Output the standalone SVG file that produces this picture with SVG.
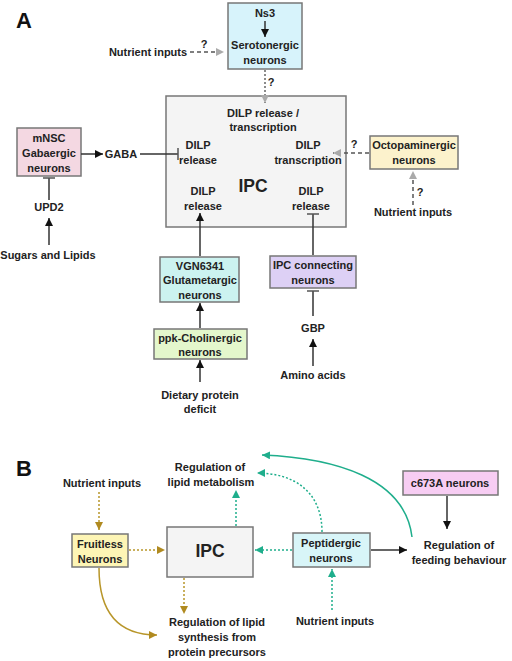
<svg xmlns="http://www.w3.org/2000/svg" width="512" height="661" viewBox="0 0 512 661">
<style>
text{font-family:"Liberation Sans",Arial,sans-serif;font-weight:bold;font-size:11px;fill:#222;text-anchor:middle}
.lbl{font-size:22px;text-anchor:start;fill:#111}
.big{font-size:17.5px}
.box{stroke:#777;stroke-width:1.5}
.blk{stroke:#333;stroke-width:1.5;fill:none}
.dash{stroke:#555;stroke-width:1.5;fill:none;stroke-dasharray:4 3}
.dot{stroke:#666;stroke-width:1.5;fill:none;stroke-dasharray:2 2}
.gold{stroke:#b8962a;stroke-width:1.5;fill:none;stroke-dasharray:2 2}
.golds{stroke:#b8962a;stroke-width:1.5;fill:none}
.grn{stroke:#1fae8c;stroke-width:1.5;fill:none;stroke-dasharray:2 2}
.grns{stroke:#1fae8c;stroke-width:1.5;fill:none}
</style>
<defs>
<marker id="ab" markerUnits="userSpaceOnUse" markerWidth="10" markerHeight="10" refX="8" refY="4" orient="auto"><path d="M0,0 L8,4 L0,8 z" fill="#111"/></marker>
<marker id="ag" markerUnits="userSpaceOnUse" markerWidth="10" markerHeight="10" refX="8" refY="4" orient="auto"><path d="M0,0 L8,4 L0,8 z" fill="#aaa"/></marker>
<marker id="ao" markerUnits="userSpaceOnUse" markerWidth="10" markerHeight="10" refX="8" refY="4" orient="auto"><path d="M0,0 L8,4 L0,8 z" fill="#b08a20"/></marker>
<marker id="an" markerUnits="userSpaceOnUse" markerWidth="10" markerHeight="10" refX="8" refY="4" orient="auto"><path d="M0,0 L8,4 L0,8 z" fill="#1fae8c"/></marker>
<marker id="tee" markerUnits="userSpaceOnUse" markerWidth="4" markerHeight="12" refX="1" refY="6" orient="auto"><path d="M1,0 L1,12" stroke="#555" stroke-width="1.5"/></marker>
</defs>
<text class="lbl" x="16" y="28">A</text>
<text class="lbl" x="16" y="476">B</text>

<g id="ns3">
<rect class="box" x="228" y="3" width="74" height="66" fill="#d7f3fb"/>
<text x="265" y="17">Ns3</text>
<text x="265" y="49">Serotonergic</text>
<text x="265" y="64">neurons</text>
</g>
<g id="nutA1"><text x="148" y="56">Nutrient inputs</text></g>

<g id="ipcA">
<rect class="box" x="166" y="96" width="180" height="131" fill="#f4f4f4"/>
<text x="263" y="117">DILP release /</text>
<text x="263" y="131">transcription</text>
<text x="198" y="149">DILP</text>
<text x="198" y="164">release</text>
<text x="308" y="149">DILP</text>
<text x="308" y="164">transcription</text>
<text class="big" x="253" y="192">IPC</text>
<text x="203" y="195">DILP</text>
<text x="203" y="210">release</text>
<text x="311" y="195">DILP</text>
<text x="311" y="210">release</text>
</g>

<g id="mnsc">
<rect class="box" x="17" y="128" width="64" height="48" fill="#f4d8e2"/>
<text x="49" y="142">mNSC</text>
<text x="49" y="157">Gabaergic</text>
<text x="49" y="172">neurons</text>
</g>
<g id="gaba"><text x="121" y="158">GABA</text></g>
<g id="upd2"><text x="49" y="211">UPD2</text></g>
<g id="sugars"><text x="48" y="259">Sugars and Lipids</text></g>

<g id="octo">
<rect class="box" x="370" y="136" width="88" height="33" fill="#fcf2cc"/>
<text x="414" y="149">Octopaminergic</text>
<text x="414" y="164">neurons</text>
</g>
<g id="nutA2"><text x="413" y="216">Nutrient inputs</text></g>

<g id="vgn">
<rect class="box" x="160" y="257" width="79" height="45" fill="#ccf3f0"/>
<text x="200" y="270">VGN6341</text>
<text x="200" y="284">Glutametargic</text>
<text x="200" y="299">neurons</text>
</g>
<g id="ppk">
<rect class="box" x="154" y="329" width="93" height="30" fill="#e4f7cc"/>
<text x="200" y="342">ppk-Cholinergic</text>
<text x="200" y="356">neurons</text>
</g>
<g id="diet">
<text x="200" y="399">Dietary protein</text>
<text x="200" y="413">deficit</text>
</g>
<g id="ipcconn">
<rect class="box" x="270" y="256" width="86" height="32" fill="#ddd0f5"/>
<text x="313" y="269">IPC connecting</text>
<text x="313" y="284">neurons</text>
</g>
<g id="gbp"><text x="313" y="332">GBP</text></g>
<g id="amino"><text x="313" y="379">Amino acids</text></g>

<g id="nutB1"><text x="102" y="487">Nutrient inputs</text></g>
<g id="fruitless">
<rect class="box" x="72" y="534" width="56" height="33" fill="#fdf5b5"/>
<text x="100" y="548">Fruitless</text>
<text x="100" y="563">Neurons</text>
</g>
<g id="ipcB">
<rect class="box" x="167" y="527" width="86" height="50" fill="#f4f4f4"/>
<text class="big" x="210" y="557">IPC</text>
</g>
<g id="lipidmet">
<text x="210" y="471">Regulation of</text>
<text x="211" y="486">lipid metabolism</text>
</g>
<g id="lipidsyn">
<text x="217" y="626">Regulation of lipid</text>
<text x="217" y="641">synthesis from</text>
<text x="217" y="656">protein precursors</text>
</g>
<g id="peptidergic">
<rect class="box" x="293" y="533" width="77" height="34" fill="#d8f5f8"/>
<text x="331" y="547">Peptidergic</text>
<text x="331" y="562">neurons</text>
</g>
<g id="feeding">
<text x="459" y="549">Regulation of</text>
<text x="459" y="564">feeding behaviour</text>
</g>
<g id="c673a">
<rect class="box" x="403" y="471" width="95" height="24" fill="#f7cdf3"/>
<text x="450" y="487">c673A neurons</text>
</g>
<g id="nutB2"><text x="335" y="625">Nutrient inputs</text></g>

<g id="connectors">
<line class="blk" x1="265" y1="21" x2="265" y2="37" marker-end="url(#ab)"/>
<line class="dash" x1="190" y1="52" x2="224" y2="52" marker-end="url(#ag)"/>
<line class="dot" x1="265" y1="70" x2="265" y2="103" marker-end="url(#ag)"/>
<line class="blk" x1="81" y1="154" x2="103" y2="154" marker-end="url(#ab)"/>
<line class="blk" x1="140" y1="154" x2="178" y2="154" stroke="#555" marker-end="url(#tee)"/>
<line class="blk" x1="49" y1="200" x2="49" y2="178" stroke="#555" marker-end="url(#tee)"/>
<line class="blk" x1="49" y1="245" x2="49" y2="218" stroke="#555" marker-end="url(#ab)"/>
<line class="dash" x1="369" y1="153" x2="333" y2="153" marker-end="url(#ag)"/>
<line class="dash" x1="413" y1="205" x2="413" y2="171" marker-end="url(#ag)"/>
<line class="blk" x1="200" y1="256" x2="200" y2="213" stroke="#555" marker-end="url(#ab)"/>
<line class="blk" x1="200" y1="328" x2="200" y2="303" stroke="#555" marker-end="url(#ab)"/>
<line class="blk" x1="200" y1="382" x2="200" y2="360" stroke="#555" marker-end="url(#ab)"/>
<line class="blk" x1="313" y1="255" x2="313" y2="214" stroke="#555" marker-end="url(#tee)"/>
<line class="blk" x1="313" y1="316" x2="313" y2="291" stroke="#555" marker-end="url(#tee)"/>
<line class="blk" x1="313" y1="366" x2="313" y2="339" stroke="#555" marker-end="url(#ab)"/>

<line class="gold" x1="99" y1="492" x2="99" y2="530" marker-end="url(#ao)"/>
<line class="gold" x1="129" y1="550" x2="165" y2="550" marker-end="url(#ao)"/>
<line class="gold" x1="184" y1="578" x2="184" y2="614" marker-end="url(#ao)"/>
<path class="golds" d="M99,568 C99,612 118,635 157,635" marker-end="url(#ao)"/>
<line class="grn" x1="236" y1="526" x2="236" y2="490" marker-end="url(#an)"/>
<line class="grn" x1="292" y1="550" x2="255" y2="550" marker-end="url(#an)"/>
<path class="grn" d="M322,532 C322,490 292,473 257,473" marker-end="url(#an)"/>
<path class="grns" d="M412,537 C405,478 335,458 262,455" marker-end="url(#an)"/>
<line class="blk" x1="371" y1="550" x2="407" y2="550" marker-end="url(#ab)"/>
<line class="blk" x1="447" y1="496" x2="447" y2="529" marker-end="url(#ab)"/>
<line class="grn" x1="332" y1="610" x2="332" y2="569" marker-end="url(#an)"/>
</g>

<g id="q">
<text x="204" y="48">?</text>
<text x="271" y="86">?</text>
<text x="354" y="148">?</text>
<text x="420" y="196">?</text>
</g>
</svg>
